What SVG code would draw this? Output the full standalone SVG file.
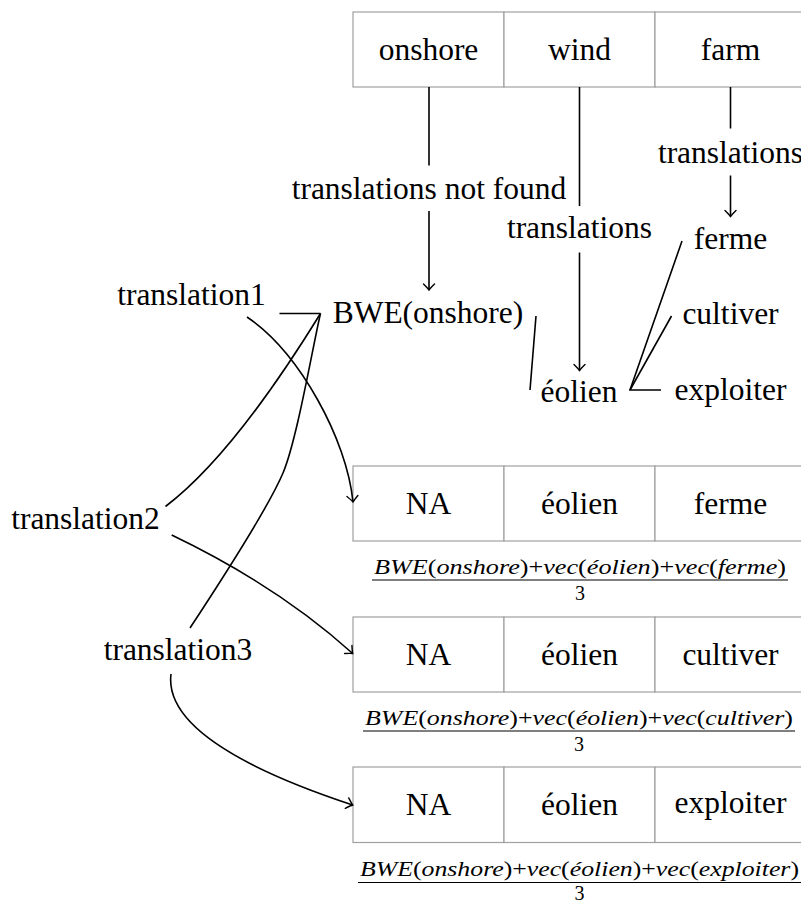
<svg xmlns="http://www.w3.org/2000/svg" width="801" height="905" viewBox="0 0 801 905">
<style>
.t{font-family:"Liberation Serif","Times New Roman",serif;font-size:31.5px;fill:#000;text-anchor:middle}
.cell{fill:#fff;stroke:#a0a0a0;stroke-width:1.2}
.c{fill:none;stroke:#000;stroke-width:1.6}
.f{font-family:"Liberation Serif","Times New Roman",serif;font-style:italic;font-size:22px;text-anchor:middle;fill:#000}
.u{font-style:normal}
.d{font-family:"Liberation Serif","Times New Roman",serif;font-size:20px;text-anchor:middle;fill:#000}
.bar{stroke:#000;stroke-width:1.1}
</style>
<defs>
<marker id="ah" markerUnits="userSpaceOnUse" viewBox="-8 -7 10 14" refX="0" refY="0" markerWidth="10" markerHeight="14" orient="auto" overflow="visible">
<path d="M-6,-5.5 Q-1.5,-1 0,0 Q-1.5,1 -6,5.5" fill="none" stroke="#000" stroke-width="1.4" stroke-linecap="round"/>
</marker>
</defs>
<rect width="801" height="905" fill="#fff"/>

<g id="source">
<rect class="cell" x="353" y="12" width="151" height="75"/>
<rect class="cell" x="504" y="12" width="151" height="75"/>
<rect class="cell" x="655" y="12" width="151" height="75"/>
<text class="t" x="428.5" y="60">onshore</text>
<text class="t" x="579.5" y="60">wind</text>
<text class="t" x="730.5" y="60">farm</text>
</g>

<g id="label-notfound"><text class="t" x="429" y="199">translations not found</text></g>
<g id="label-wind"><text class="t" x="579.5" y="238">translations</text></g>
<g id="label-farm"><text class="t" x="730.5" y="162.5">translations</text></g>
<g id="bwe"><text class="t" x="428" y="323">BWE(onshore)</text></g>
<g id="eolien"><text class="t" x="579" y="401.5">éolien</text></g>
<g id="ferme"><text class="t" x="730.5" y="248.5">ferme</text></g>
<g id="cultiver"><text class="t" x="730.5" y="324">cultiver</text></g>
<g id="exploiter"><text class="t" x="730.5" y="400">exploiter</text></g>
<g id="translation1"><text class="t" x="191.5" y="305">translation1</text></g>
<g id="translation2"><text class="t" x="85.5" y="528.5">translation2</text></g>
<g id="translation3"><text class="t" x="178" y="660">translation3</text></g>

<g id="result1">
<rect class="cell" x="353" y="466" width="151" height="75"/>
<rect class="cell" x="504" y="466" width="151" height="75"/>
<rect class="cell" x="655" y="466" width="151" height="75"/>
<text class="t" x="428.5" y="514">NA</text>
<text class="t" x="579.5" y="514">éolien</text>
<text class="t" x="730.5" y="514">ferme</text>
<text class="f" x="580" y="573.5" textLength="412" lengthAdjust="spacingAndGlyphs">BWE<tspan class="u">(</tspan>onshore<tspan class="u">)+</tspan>vec<tspan class="u">(</tspan>éolien<tspan class="u">)+</tspan>vec<tspan class="u">(</tspan>ferme<tspan class="u">)</tspan></text>
<line class="bar" x1="372" y1="580" x2="788" y2="580"/>
<text class="d" x="580" y="599.5">3</text>
</g>

<g id="result2">
<rect class="cell" x="353" y="617" width="151" height="75"/>
<rect class="cell" x="504" y="617" width="151" height="75"/>
<rect class="cell" x="655" y="617" width="151" height="75"/>
<text class="t" x="428.5" y="665">NA</text>
<text class="t" x="579.5" y="665">éolien</text>
<text class="t" x="730.5" y="665">cultiver</text>
<text class="f" x="579" y="724.5" textLength="428" lengthAdjust="spacingAndGlyphs">BWE<tspan class="u">(</tspan>onshore<tspan class="u">)+</tspan>vec<tspan class="u">(</tspan>éolien<tspan class="u">)+</tspan>vec<tspan class="u">(</tspan>cultiver<tspan class="u">)</tspan></text>
<line class="bar" x1="363" y1="731" x2="795" y2="731"/>
<text class="d" x="579" y="750.5">3</text>
</g>

<g id="result3">
<rect class="cell" x="353" y="767" width="151" height="75.5"/>
<rect class="cell" x="504" y="767" width="151" height="75.5"/>
<rect class="cell" x="655" y="767" width="151" height="75.5"/>
<text class="t" x="428.5" y="815">NA</text>
<text class="t" x="579.5" y="815">éolien</text>
<text class="t" x="730.5" y="812.5">exploiter</text>
<text class="f" x="579.5" y="875.5" textLength="439" lengthAdjust="spacingAndGlyphs">BWE<tspan class="u">(</tspan>onshore<tspan class="u">)+</tspan>vec<tspan class="u">(</tspan>éolien<tspan class="u">)+</tspan>vec<tspan class="u">(</tspan>exploiter<tspan class="u">)</tspan></text>
<line class="bar" x1="358" y1="882.5" x2="801" y2="882.5"/>
<text class="d" x="579.5" y="900">3</text>
</g>

<g id="connectors">
<path class="c" d="M429,87 V165.5"/>
<path class="c" d="M429,211 V290" marker-end="url(#ah)"/>
<path class="c" d="M579.5,87 V206"/>
<path class="c" d="M579.5,252.5 V370.5" marker-end="url(#ah)"/>
<path class="c" d="M730.5,87 V128.5"/>
<path class="c" d="M730.5,175.5 V216.5" marker-end="url(#ah)"/>
<path class="c" d="M536,316 L530,390"/>
<path class="c" d="M682,241 L630,390 L661,390"/>
<path class="c" d="M671.5,316 L630,390"/>
<path class="c" d="M279.5,313.5 H320.5"/>
<path class="c" d="M320.5,313.5 C276.8,384.4 221,464.4 165.5,506.5"/>
<path class="c" d="M320.5,313.5 C313,345 297,440 283,473 C269,506 215,590 190,628"/>
<path class="c" d="M247,317 C300,353 347,440 353,502" marker-end="url(#ah)"/>
<path class="c" d="M171.7,535 Q278,586 352.7,653.5" marker-end="url(#ah)"/>
<path class="c" d="M171,674 C165.3,719.5 225.7,763 352.7,805" marker-end="url(#ah)"/>
</g>
</svg>
